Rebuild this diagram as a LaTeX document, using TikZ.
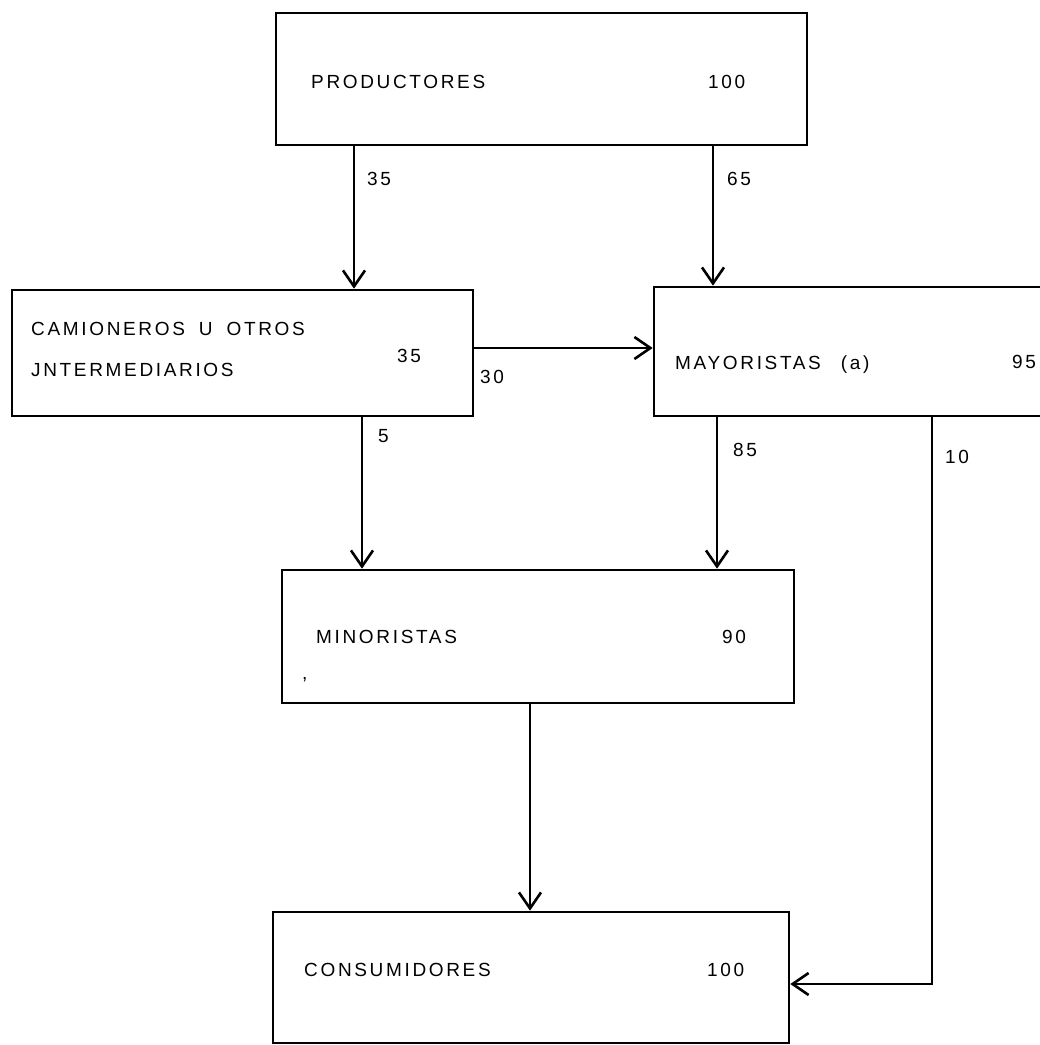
\documentclass[tikz,border=0pt]{standalone}
\usepackage{fontspec}
\setmainfont{Liberation Sans}[LetterSpace=14]
\usetikzlibrary{arrows.meta}
\begin{document}
\begin{tikzpicture}[x=1pt,y=-1pt,
  box/.style={draw, line width=2.6pt, inner sep=0pt},
  lbl/.style={anchor=west, inner sep=0pt, font=\fontsize{19}{22}\selectfont},
  arr/.style={line width=2.6pt, -{Straight Barb[length=16pt,width=22pt,line width=2.6pt]}},
  ln/.style={line width=2.6pt}]
\useasboundingbox (0,0) rectangle (1040,1045);
\clip (0,0) rectangle (1040,1045);
\fill[white] (0,0) rectangle (1040,1045);
% boxes
\node[box, minimum width=531pt, minimum height=132pt] (prod) at (541.5,79) {};
\node[box, minimum width=461pt, minimum height=126pt] (cam) at (242.5,353) {};
\node[box, minimum width=416pt, minimum height=129pt] (may) at (862,351.5) {};
\node[box, minimum width=512pt, minimum height=133pt] (min) at (538,636.5) {};
\node[box, minimum width=516pt, minimum height=131pt] (con) at (531,977.5) {};
% texts
\node[lbl] (tprod) at (311,82) {PRODUCTORES};
\node[lbl] (nprod) at (708,82) {100};
\node[lbl] (tcam1) at (31,329) {CAMIONEROS\hspace{6pt} U\hspace{6pt} OTROS};
\node[lbl] (tcam2) at (31,370) {JNTERMEDIARIOS};
\node[lbl] (ncam) at (397,356) {35};
\node[lbl, anchor=base west] (tmay) at (675,369) {MAYORISTAS\hspace{12pt} (a)};
\node[lbl] (nmay) at (1012,362) {95};
\node[lbl] (tmin) at (316,637) {MINORISTAS};
\node[lbl] (nmin) at (722,637) {90};
\node[lbl] (comma) at (302,680) {,};
\node[lbl] (tcon) at (304,970) {CONSUMIDORES};
\node[lbl] (ncon) at (707,970) {100};
% connector labels
\node[lbl] (l35) at (367,179) {35};
\node[lbl] (l65) at (727,179) {65};
\node[lbl] (l30) at (480,377) {30};
\node[lbl] (l5) at (378,436) {5};
\node[lbl] (l85) at (733,450) {85};
\node[lbl] (l10) at (945,457) {10};
% connectors
\draw[arr] (prod.south -| 354,0) -- (cam.north -| 354,0);
\draw[arr] (prod.south -| 713,0) -- (may.north -| 713,0);
\draw[arr] (cam.east |- 0,348) -- (may.west |- 0,348);
\draw[arr] (cam.south -| 362,0) -- (min.north -| 362,0);
\draw[arr] (may.south -| 717,0) -- (min.north -| 717,0);
\draw[arr] (min.south -| 530,0) -- (con.north -| 530,0);
\coordinate (corner) at (932,984);
\draw[arr] (may.south -| corner) -- (corner) -- (con.east |- corner);
\end{tikzpicture}
\end{document}
